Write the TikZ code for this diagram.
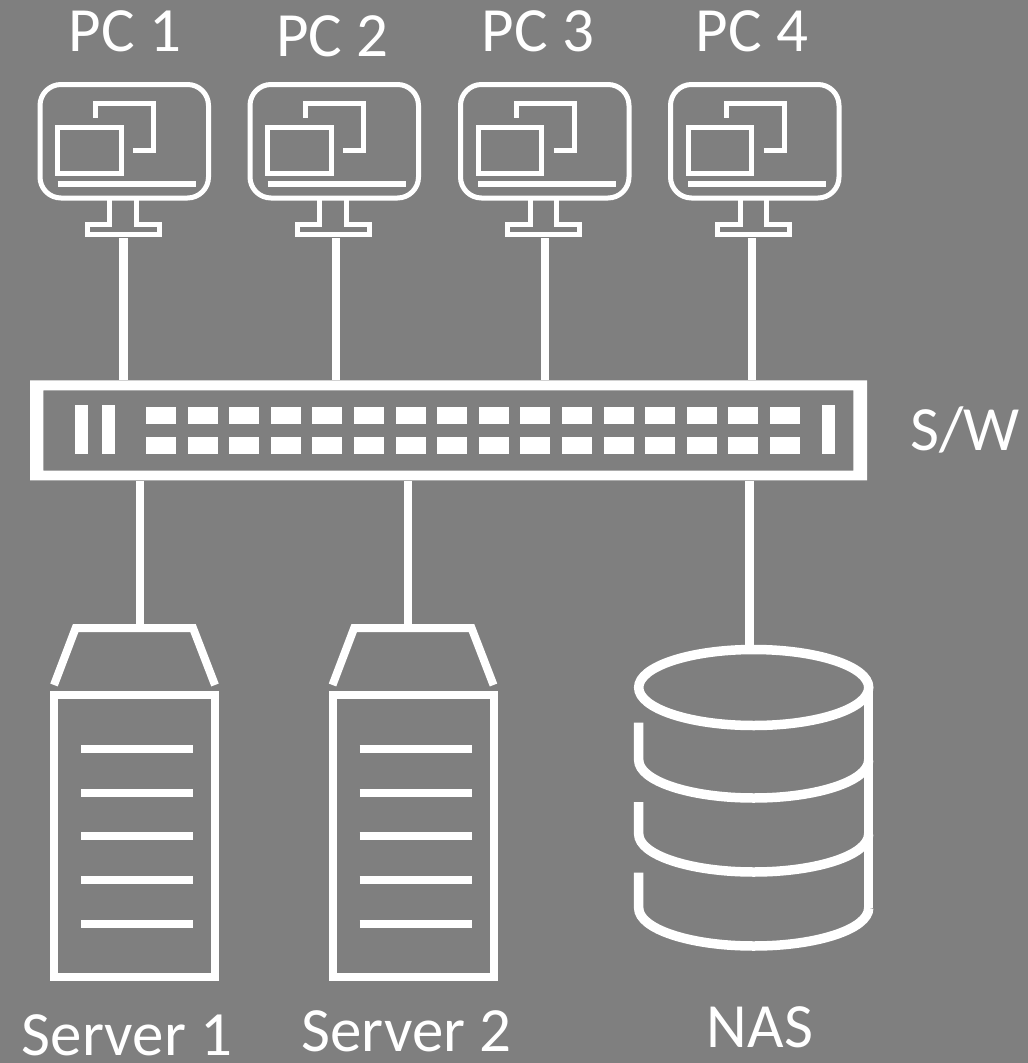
\documentclass[tikz,border=0pt]{standalone}
\usepackage{fontspec}
\setmainfont{Carlito}
\definecolor{bggray}{HTML}{7F7F7F}
\tikzset{
   icon/.style={draw=white, line width=5pt, line cap=butt, line join=miter},
   wire/.style={draw=white, line width=8.5pt},
   port/.style={fill=white, draw=none},
   caption/.style={text=white, font=\fontsize{63}{64}\selectfont, inner sep=0pt}
}
\begin{document}
\begin{tikzpicture}[x=1pt, y=-1pt]
   \useasboundingbox (0,0) rectangle (1028,1063);
   \fill[bggray] (0,0) rectangle (1028,1063);

   %% switch
   \node[minimum width=837pt, minimum height=100pt, inner sep=0pt] (sw) at (448.5,430.3) {};
   \fill[white, even odd rule] (30,380.3) rectangle (867,480.3) (43.3,390.3) rectangle (853.3,470.7);
   \foreach \x in {75,102,822}
   {
       \fill[port] (\x,405) rectangle +(13.3,48.5);
   };
   \foreach \i in {0,...,15}
   {
       \fill[port] (146+41.6*\i,407) rectangle +(30,17);
       \fill[port] (146+41.6*\i,437) rectangle +(30,17);
   };
   \node[caption] (swtext) at (965,430) {S/W};

   %% PC name / shift / x of the cable / label position / label
   \foreach \v/\s/\c/\lx/\ly/\t in
   { pcA/0/123.3/125/31/PC 1,
       pcB/210/336/332.5/36/PC 2,
       pcC/420.5/545/538/31/PC 3,
       pcD/630.5/752/752/31/PC 4
   }
   {
       \begin{scope}[shift={(\s,0)}]
           \draw[icon, rounded corners=21pt] (40,84.5) rectangle (208.5,198);
           \draw[icon] (95.7,117.7) -- (95.7,103.3) -- (153.7,103.3) -- (153.7,150.3) -- (133.3,150.3);
           \draw[icon] (57.7,127) rectangle (121,173.7);
           \draw[icon, line width=5.5pt] (57.7,184) -- (195.7,184);
           \draw[icon] (109.7,198) -- (109.7,224.7) -- (87,224.7) -- (87,234) -- (159,234) -- (159,224.7) -- (136,224.7) -- (136,198);
       \end{scope}
       \coordinate (\v) at (\c,238);
       \draw[wire] (\v) -- (\v |- sw.north);
       \node[caption] (\v text) at (\lx,\ly) {\t};
   };

   %% servers
   \foreach \v/\s/\c/\lx/\ly/\t in
   { srvA/0/140/127/1035/Server 1,
       srvB/278.5/408/406.5/1031/Server 2
   }
   {
       \begin{scope}[shift={(\s,0)}]
           \draw[icon, line width=8pt] (54,685) -- (75.7,628) -- (193,628) -- (215,685);
           \draw[icon, line width=8pt] (54,695) rectangle (215.3,977);
           \foreach \y in {749,793,836,880,924}
           {
               \draw[wire] (81,\y) -- (193,\y);
           };
       \end{scope}
       \coordinate (\v) at (\c,628);
       \draw[wire] (\v |- sw.south) -- (\v);
       \node[caption] (\v text) at (\lx,\ly) {\t};
   };

   %% NAS
   \coordinate (nas) at (749.3,645);
   \draw[wire] (nas |- sw.south) -- (nas);
   \draw[icon, line width=9.5pt] (753.7,687.5) ellipse [x radius=115pt, y radius=38pt];
   \draw[icon, line width=9.5pt] (868.7,687.5) -- (868.7,908);
   \foreach \a/\b in {722.7/760,802/834,872.7/908}
   {
       \draw[icon, line width=9.5pt] (638.7,\a) -- (638.7,\b)
           arc[start angle=180, end angle=360, x radius=115pt, y radius=38pt];
   };
   \node[caption] (nastext) at (760,1027.5) {NAS};
\end{tikzpicture}
\end{document}
